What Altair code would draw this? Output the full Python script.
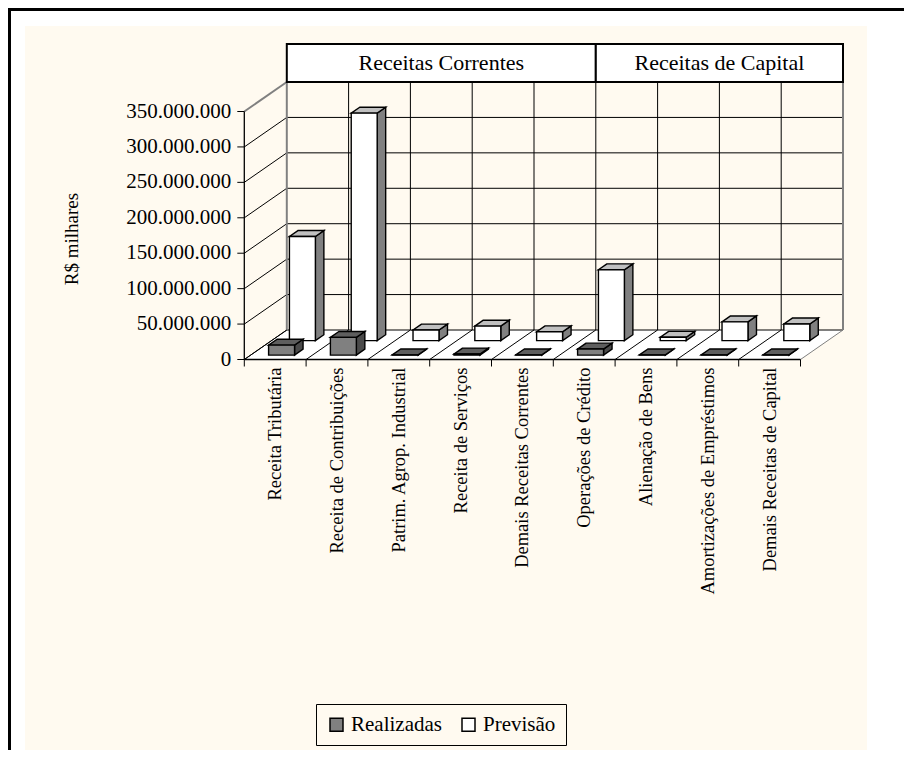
import json
import altair as alt
import pandas as pd

# ---------------- data ----------------
categorias = [
    "Receita Tributária",
    "Receita de Contribuições",
    "Patrim. Agrop. Industrial",
    "Receita de Serviços",
    "Demais Receitas Correntes",
    "Operações de Crédito",
    "Alienação de Bens",
    "Amortizações de Empréstimos",
    "Demais Receitas de Capital",
]
realizadas = [14000000, 25000000, 300000, 1500000, 300000, 8500000, 300000, 300000, 300000]
previsao = [147000000, 321000000, 15000000, 20500000, 12500000, 100000000, 4700000, 26500000, 23500000]
series = ["Realizadas", "Previsão"]
grupos = ["Receitas Correntes", "Receitas de Capital"]
grupo_ini = [0, 5]
grupo_fim = [5, 9]
y_ticks = [0, 50000000, 100000000, 150000000, 200000000, 250000000, 300000000, 350000000]
y_tick_labels = ["0", "50.000.000", "100.000.000", "150.000.000", "200.000.000",
                 "250.000.000", "300.000.000", "350.000.000"]
y_title = "R$ milhares"

# ---------------- layout constants ----------------
N = len(categorias)
TOP = y_ticks[-1]
W, H = 842, 724            # plot area (cream panel)
U = 61.8                   # px per category
K = 248.0 / 350e6          # px per unit of value
X0, Y0 = 219.3, 333.5      # front-left-bottom corner inside plot (px)
XMIN, XMAX = -X0 / U, (W - X0) / U
YMIN, YMAX = -(H - Y0) / K, Y0 / K
DX = 42.5 / U              # depth shift (x, category units)
DY = 29.5 / K              # depth shift (y, value units)
HB = 38 / K                # header box height
HW = 0.21                  # bar half width
DEPTH = 0.2                # bar depth
D_FRONT, D_BACK = 0.15, 0.64
TICK = 7                   # tick length px
FONT = "Liberation Serif"

xs = alt.Scale(domain=[XMIN, XMAX], nice=False, zero=False)
ys = alt.Scale(domain=[YMIN, YMAX], nice=False, zero=False)


def X(f, **kw):
    return alt.X(f, type="quantitative", scale=xs, axis=None, **kw)


def Y(f, **kw):
    return alt.Y(f, type="quantitative", scale=ys, axis=None, **kw)


one = pd.DataFrame({"a": [0]})

# decorative outer frame (right/bottom edges fall outside the canvas)
frame = alt.Chart(one).mark_rect(fillOpacity=0, stroke="black", strokeWidth=3).encode(
    x=alt.value(-15.5), x2=alt.value(W + 80), y=alt.value(-16.5), y2=alt.value(H + 80)
)

# floor
floor = alt.Chart(pd.DataFrame({"d": [0, 1]})).transform_calculate(
    fy=f"datum.d * {DY}", fx1=f"datum.d * {DX}", fx2=f"{N} + datum.d * {DX}"
).mark_area(orient="horizontal", fill="white").encode(
    y=Y("fy", stack=False), x=X("fx1", stack=False), x2=alt.X2("fx2")
)

ticks_df = pd.DataFrame({"t": y_ticks, "lab": y_tick_labels})
bounds_df = pd.DataFrame({"k": list(range(N + 1))})

left_wall = alt.Chart(ticks_df).transform_calculate(
    x1="0", x2=f"{DX}", y1="datum.t", y2=f"datum.t + {DY}",
    cor=f"datum.t == {TOP} ? '#808080' : '#000000'",
    sw=f"datum.t == {TOP} ? 2 : 1",
).mark_rule().encode(
    x=X("x1"), x2=alt.X2("x2"), y=Y("y1"), y2=alt.Y2("y2"),
    color=alt.Color("cor:N", scale=None), strokeWidth=alt.StrokeWidth("sw:Q", scale=None)
)

back_h = alt.Chart(ticks_df).transform_calculate(
    x1=f"{DX}", x2=f"{N} + {DX}", y1=f"datum.t + {DY}"
).mark_rule(color="#000000", strokeWidth=1).encode(
    x=X("x1"), x2=alt.X2("x2"), y=Y("y1")
)

back_v = alt.Chart(bounds_df).transform_calculate(
    x1=f"datum.k + {DX}", y1=f"{DY}", y2=f"{TOP} + {DY}",
    cor=f"(datum.k == 0 || datum.k == {N}) ? '#808080' : '#000000'",
    sw=f"(datum.k == 0 || datum.k == {N}) ? 2 : 1",
).mark_rule().encode(
    x=X("x1"), y=Y("y1"), y2=alt.Y2("y2"),
    color=alt.Color("cor:N", scale=None), strokeWidth=alt.StrokeWidth("sw:Q", scale=None)
)

floor_diag = alt.Chart(bounds_df).transform_calculate(
    x1="datum.k", x2=f"datum.k + {DX}", y1="0", y2=f"{DY}",
    cor=f"datum.k == {N} ? '#808080' : '#000000'",
).mark_rule(strokeWidth=1).encode(
    x=X("x1"), x2=alt.X2("x2"), y=Y("y1"), y2=alt.Y2("y2"),
    color=alt.Color("cor:N", scale=None)
)

# front edges: floor front edge and value axis line
front_edges = alt.Chart(pd.DataFrame({"e": [0, 1]})).transform_calculate(
    x1="0", x2=f"datum.e == 0 ? {N} : 0", y1="0", y2=f"datum.e == 0 ? 0 : {TOP}"
).mark_rule(color="black", strokeWidth=1.3).encode(
    x=X("x1"), x2=alt.X2("x2"), y=Y("y1"), y2=alt.Y2("y2"),
)

# value-axis ticks and labels
y_tick_marks = alt.Chart(ticks_df).transform_calculate(
    x1="0", x2=f"{-TICK / U}", y1="datum.t"
).mark_rule(color="black", strokeWidth=1).encode(x=X("x1"), x2=alt.X2("x2"), y=Y("y1"))

y_tick_text = alt.Chart(ticks_df).transform_calculate(x1="0").mark_text(
    font=FONT, fontSize=21, color="black", align="right", baseline="middle", dx=-(TICK + 6)
).encode(x=X("x1"), y=Y("t"), text="lab:N")

y_title_txt = alt.Chart(pd.DataFrame({"txt": [y_title]})).transform_calculate(
    x1=f"{(47 - X0) / U}", y1=f"{(Y0 - 213) / K}"
).mark_text(font=FONT, fontSize=19, color="black", align="center", baseline="middle",
            angle=270).encode(x=X("x1"), y=Y("y1"), text="txt:N")

# category ticks and labels
x_tick_marks = alt.Chart(bounds_df).transform_calculate(
    y1="0", y2=f"{-TICK / K}"
).mark_rule(color="black", strokeWidth=1).encode(x=X("k"), y=Y("y1"), y2=alt.Y2("y2"))

cat_df = pd.DataFrame({"i": list(range(N)), "cat": categorias})
x_tick_text = alt.Chart(cat_df).transform_calculate(
    xc="datum.i + 0.5", y1="0"
).mark_text(font=FONT, fontSize=18.5, color="black", align="right", baseline="middle",
            angle=270, dx=-(TICK + 1)).encode(x=X("xc"), y=Y("y1"), text="cat:N")

# ---------------- bars ----------------
bars = pd.DataFrame({
    "i": list(range(N)) * 2,
    "serie": [series[0]] * N + [series[1]] * N,
    "v": realizadas + previsao,
})


def base(serie):
    return alt.Chart(bars).transform_filter(alt.datum.serie == serie).transform_calculate(
        d0=f"datum.serie == '{series[1]}' ? {D_BACK} : {D_FRONT}",
        xl=f"datum.i + 0.5 - {HW}",
        xr=f"datum.i + 0.5 + {HW}",
    )


legend = alt.Legend(
    title=None, orient="none", legendX=291, legendY=678, direction="horizontal",
    strokeColor="black", fillColor="#FFFAF0", padding=10, symbolType="square",
    symbolSize=169, symbolStrokeColor="black", symbolStrokeWidth=1.5,
    labelFont=FONT, labelFontSize=21, labelColor="black", columnPadding=16, symbolOffset=0,
)


def front_face(serie):
    return base(serie).transform_calculate(
        fx1=f"datum.xl + datum.d0 * {DX}", fx2=f"datum.xr + datum.d0 * {DX}",
        fy1=f"datum.d0 * {DY}", fy2=f"datum.v + datum.d0 * {DY}",
    ).mark_rect(stroke="black", strokeWidth=1.4).encode(
        x=X("fx1"), x2=alt.X2("fx2"), y=Y("fy1"), y2=alt.Y2("fy2"),
        fill=alt.Fill("serie:N", scale=alt.Scale(domain=series, range=["#808080", "#FFFFFF"]),
                      legend=legend),
    )


def top_face(serie):
    return base(serie).transform_calculate(d1=f"datum.d0 + {DEPTH}").transform_fold(
        ["d0", "d1"], as_=["k", "d"]
    ).transform_calculate(
        ty=f"datum.v + datum.d * {DY}",
        tx1=f"datum.xl + datum.d * {DX}", tx2=f"datum.xr + datum.d * {DX}",
        c=f"datum.serie == '{series[1]}' ? '#C0C0C0' : '#5E5E5E'",
    ).mark_area(orient="horizontal", stroke="black", strokeWidth=1.4).encode(
        y=Y("ty", stack=False), x=X("tx1", stack=False), x2=alt.X2("tx2"),
        detail="i:N", fill=alt.Fill("c:N", scale=None),
    )


def side_face(serie):
    return base(serie).transform_calculate(d1=f"datum.d0 + {DEPTH}").transform_fold(
        ["d0", "d1"], as_=["k", "d"]
    ).transform_calculate(
        sx=f"datum.xr + datum.d * {DX}",
        sy1=f"datum.d * {DY}", sy2=f"datum.v + datum.d * {DY}",
        c=f"datum.serie == '{series[1]}' ? '#808080' : '#4A4A4A'",
    ).mark_area(orient="vertical", stroke="black", strokeWidth=1.4).encode(
        x=X("sx", stack=False), y=Y("sy2", stack=False), y2=alt.Y2("sy1"),
        detail="i:N", fill=alt.Fill("c:N", scale=None),
    )


# ---------------- header boxes ----------------
hdr = pd.DataFrame({"g": grupos, "ini": grupo_ini, "fim": grupo_fim})
hdr_base = alt.Chart(hdr).transform_calculate(
    x1=f"datum.ini + {DX}", x2=f"datum.fim + {DX}",
    y1=f"{TOP} + {DY}", y2=f"{TOP} + {DY} + {HB}",
    xc=f"(datum.ini + datum.fim) / 2 + {DX}", yc=f"{TOP} + {DY} + {HB} / 2",
)
hdr_box = hdr_base.mark_rect(fill="white", stroke="black", strokeWidth=2).encode(
    x=X("x1"), x2=alt.X2("x2"), y=Y("y1"), y2=alt.Y2("y2")
)
hdr_txt = hdr_base.mark_text(font=FONT, fontSize=22, color="black", align="center",
                             baseline="middle").encode(x=X("xc"), y=Y("yc"), text="g:N")

chart = alt.layer(
    frame, floor, left_wall, back_h, back_v, floor_diag, front_edges,
    y_tick_marks, y_tick_text, y_title_txt, x_tick_marks, x_tick_text,
    side_face(series[1]), top_face(series[1]), front_face(series[1]),
    side_face(series[0]), top_face(series[0]), front_face(series[0]),
    hdr_box, hdr_txt,
).properties(
    width=W, height=H,
    autosize=alt.AutoSizeParams(type="none"),
    padding={"left": 17, "top": 18, "right": 37, "bottom": 0},
    background="white",
).configure(font=FONT).configure_view(fill="#FFFAF0", strokeWidth=0)

chart.save("out.html", embed_options={"renderer": "svg", "actions": False})
